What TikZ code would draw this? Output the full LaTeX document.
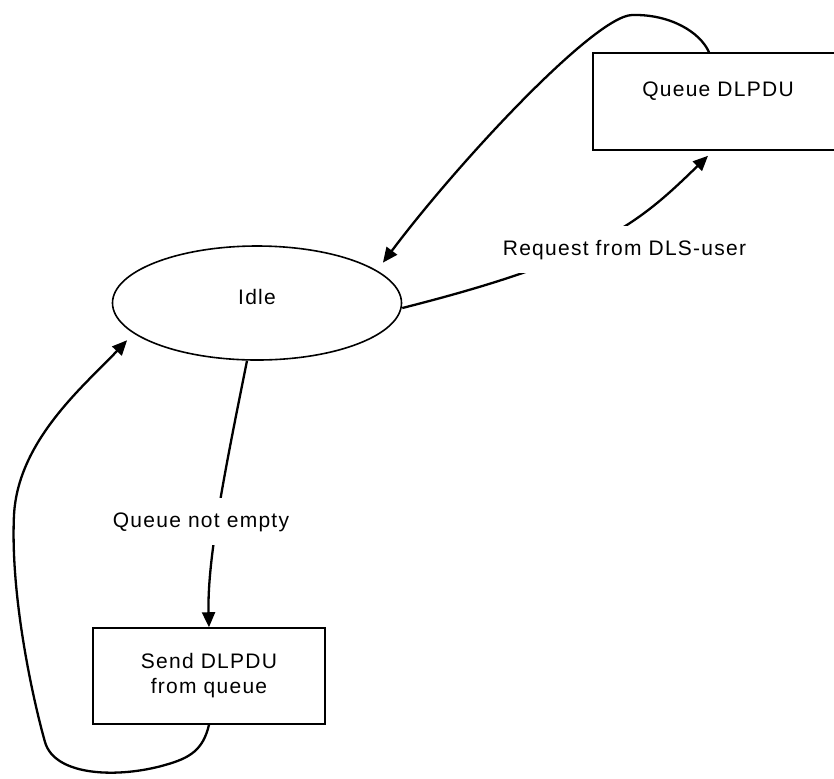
\documentclass[tikz,border=0pt]{standalone}
\usepackage{fontspec}
\setmainfont{Liberation Sans}[LetterSpace=6]
\usetikzlibrary{arrows.meta, shapes.geometric}

\begin{document}
\begin{tikzpicture}[x=0.5pt, y=-0.5pt, >={Triangle[length=7.5pt, width=6.5pt]},
   every node/.style={font=\fontsize{10.5}{12.5}\selectfont},
   block/.style={draw, line width=0.8pt, rectangle, align=center, inner sep=0pt},
   idlestate/.style={draw, line width=0.8pt, ellipse, minimum width=144.5pt, minimum height=57pt, inner sep=0pt},
   cond/.style={fill=white, inner xsep=2pt, inner ysep=7pt, anchor=base},
   trans/.style={->, line width=1.15pt}]
   \clip (0,0) rectangle (834,778);

   \node[idlestate, text depth=6.5pt] (idle) at (257,303) {Idle};
   \node[block, minimum width=125pt, minimum height=48.5pt] (queue) at (718,101.5) {Queue DLPDU\\~};
   \node[block, minimum width=116pt, minimum height=48pt] (send) at (209,676) {Send DLPDU\\from queue};

   \draw[trans] ([yshift=-2.5pt]idle.east) .. controls (600,258) and (640,222) .. ([xshift=-5pt, yshift=-2.5pt]queue.south);
   \draw[trans] ([xshift=-4.5pt]queue.north) .. controls (700,32) and (670,14) .. (632,15)
      .. controls (595,16) and (460,160) .. ([shift={(6.7pt,1.9pt)}]idle.18);
   \draw[trans] ([xshift=-5pt]idle.south) .. controls (225,470) and (207,560) .. (send.north);
   \draw[trans] (send.south) .. controls (203,750) and (190,758) .. (165,765)
      .. controls (120,778) and (55,777) .. (45,742)
      .. controls (35,707) and (10,600) .. (14,515)
      .. controls (18,440) and (85,385) .. ([shift={(-6pt,-1.7pt)}]idle.196);

   \node[cond] (request) at (624.5,255) {Request from DLS-user};
   \node[cond] (notempty) at (201,527) {Queue not empty};
\end{tikzpicture}
\end{document}
